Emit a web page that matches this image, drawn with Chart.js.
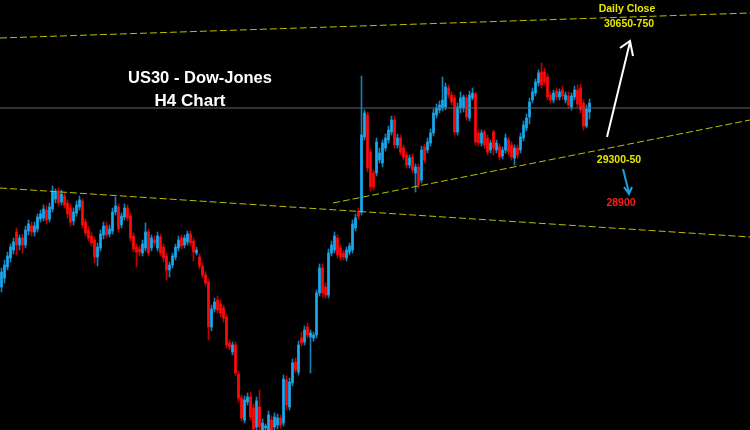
<!DOCTYPE html>
<html>
<head>
<meta charset="utf-8">
<script src="https://cdn.jsdelivr.net/npm/chart.js@4.4.1/dist/chart.umd.min.js"></script>
<style>
  html, body { margin: 0; padding: 0; background: #000; }
  canvas { display: block; }
</style>
</head>
<body>
<canvas id="chart" width="750" height="430"></canvas>
<script>
// US30 H4 candles (price points)
const opens = [28030,28120,28230,28320,28400,28580,28450,28520,28450,28590,28640,28580,28610,28710,28720,28800,28710,28810,28910,28990,
  28880,28940,28870,28820,28690,28770,28830,28890,28680,28600,28540,28500,28330,28420,28550,28640,28560,28590,28780,28830,
  28650,28730,28820,28740,28540,28430,28410,28370,28420,28580,28420,28500,28420,28530,28430,28340,28200,28250,28330,28420,
  28520,28450,28480,28560,28490,28370,28330,28240,28150,28080,27630,27810,27900,27860,27820,27730,27470,27380,27450,27160,
  26920,26700,26880,26930,26820,26630,26830,26600,26620,26600,26700,26630,26650,26720,26670,27100,26830,27070,27280,27180,
  27520,27480,27630,27530,27520,27550,27970,28220,28030,27950,28370,28400,28520,28420,28370,28320,28380,28400,28620,28790,
  28780,29530,29750,29380,29170,29170,29300,29270,29420,29500,29580,29700,29450,29520,29420,29350,29250,29330,29170,29230,
  29100,29430,29400,29470,29570,29750,29800,29820,29830,30020,29950,29920,29580,29820,29820,29920,29720,29920,29960,29570,
  29470,29580,29520,29400,29580,29400,29430,29340,29400,29500,29450,29320,29420,29400,29520,29620,29730,29900,29970,30070,
  30180,30180,30130,29950,29900,29990,29930,30000,29900,29940,29830,29930,30000,30020,29870,29640,29780];
const highs = [28220,28300,28380,28460,28520,28620,28550,28560,28640,28700,28680,28680,28760,28800,28850,28840,28870,29040,29010,29020,
  29000,28970,28900,28860,28820,28890,28940,28910,28710,28640,28580,28530,28470,28600,28680,28680,28650,28820,28930,28860,
  28770,28860,28850,28770,28570,28460,28440,28500,28670,28610,28550,28540,28580,28560,28460,28370,28280,28370,28460,28540,
  28550,28550,28590,28590,28520,28430,28360,28270,28180,28110,27850,27920,27940,27900,27850,27760,27500,27480,27480,27190,
  26950,26940,26970,26980,26860,26930,27000,26710,26660,26790,26740,26770,26760,26750,27150,27140,27120,27310,27320,27490,
  27580,27640,27670,27600,27580,28000,28260,28260,28070,28410,28490,28580,28550,28450,28400,28430,28470,28700,28760,28820,
  30140,29800,29780,29410,29200,29520,29420,29500,29560,29640,29740,29740,29560,29550,29450,29380,29350,29360,29260,29260,
  29440,29460,29520,29610,29810,29860,29890,30130,30070,30050,29980,29950,29870,29980,29950,29950,29990,30020,29980,29600,
  29600,29600,29550,29500,29600,29500,29460,29430,29560,29530,29480,29450,29450,29570,29690,29760,29920,30020,30110,30200,
  30270,30220,30160,29980,30000,30020,30010,30040,29980,29980,29970,30040,30050,30060,29900,29850,29910];
const lows = [27980,28070,28200,28280,28360,28350,28400,28370,28420,28550,28540,28540,28580,28680,28690,28660,28680,28780,28870,28840,
  28850,28820,28720,28640,28650,28740,28800,28620,28540,28490,28440,28270,28240,28390,28510,28520,28530,28560,28750,28580,
  28620,28700,28690,28490,28380,28230,28340,28340,28390,28340,28390,28440,28390,28340,28280,28100,28130,28220,28300,28390,
  28410,28420,28450,28440,28290,28350,28210,28120,28040,27500,27590,27780,27770,27730,27680,27420,27400,27350,27140,26880,
  26690,26670,26850,26700,26580,26600,26600,26560,26560,26560,26560,26600,26610,26620,26640,26800,26800,27040,27170,27150,
  27440,27450,27520,27170,27490,27520,27940,27930,27920,27920,28340,28370,28320,28300,28300,28290,28350,28370,28590,28710,
  28750,29500,29180,28990,29000,29140,29270,29230,29390,29470,29550,29420,29420,29350,29300,29220,29220,29170,28980,29020,
  29070,29270,29370,29440,29540,29720,29770,29790,29800,29920,29850,29550,29550,29770,29780,29700,29690,29900,29450,29440,
  29440,29420,29350,29370,29350,29370,29300,29310,29370,29350,29300,29250,29320,29370,29490,29590,29660,29870,29940,30040,
  30020,30050,29900,29870,29870,29900,29900,29910,29870,29820,29800,29900,29830,29770,29600,29620,29710];
const closes = [28180,28250,28340,28430,28480,28450,28520,28450,28600,28660,28580,28640,28730,28760,28810,28700,28830,28980,28980,28870,
  28960,28850,28760,28680,28780,28850,28900,28650,28570,28520,28470,28330,28430,28560,28640,28550,28610,28780,28840,28610,
  28740,28820,28720,28520,28410,28380,28380,28460,28580,28370,28520,28470,28540,28370,28320,28200,28250,28340,28430,28500,
  28440,28520,28560,28470,28380,28400,28240,28150,28070,27630,27810,27880,27800,27770,27720,27450,27430,27450,27170,26920,
  26720,26900,26930,26730,26610,26890,26630,26670,26640,26750,26600,26730,26720,26650,27110,26850,27080,27270,27200,27450,
  27470,27600,27550,27570,27550,27970,28220,27970,27950,28370,28450,28540,28350,28330,28330,28400,28440,28660,28720,28740,
  29550,29770,29220,29030,29030,29480,29370,29470,29520,29600,29700,29450,29520,29380,29330,29250,29320,29200,29230,29050,
  29400,29300,29480,29570,29770,29820,29850,29900,30030,29950,29880,29580,29830,29920,29930,29730,29950,29970,29480,29470,
  29570,29450,29380,29470,29420,29470,29330,29400,29520,29380,29330,29420,29350,29530,29650,29720,29880,29980,30080,30170,
  30050,30080,29930,29900,29970,29930,29980,29940,29950,29850,29940,30000,29860,29800,29640,29810,29870];

// trend lines: [index, price] end points
const upperTrend = [[-0.5, 30520], [249.5, 30770]];
const supportTrend = [[110.5, 28870], [249.5, 29700]];
const lowerTrend = [[-0.5, 29020], [249.5, 28530]];
const levelLine = [[-0.5, 29820], [249.5, 29820]];

const UP = '#19a9ec', DOWN = '#ff0a0a';
const UP_WICK = '#1580b5', DOWN_WICK = '#c00000';

const up = closes.map((c, i) => c >= opens[i]);
const wickData = opens.map((o, i) => ({ x: i, y: [lows[i], highs[i]] }));
const bodyData = opens.map((o, i) => ({ x: i, y: [o, closes[i]] }));

function trendSet(pts, color, dash) {
  return {
    type: 'line',
    data: pts.map(p => ({ x: p[0], y: p[1] })),
    borderColor: color, borderWidth: 1, borderDash: dash,
    pointRadius: 0, fill: false, tension: 0, order: 0
  };
}

// text + arrows drawn on top
const notes = {
  id: 'notes',
  afterDraw(chart) {
    const ctx = chart.ctx;
    ctx.save();
    ctx.textAlign = 'center';
    ctx.textBaseline = 'alphabetic';
    ctx.fillStyle = '#fff';
    ctx.font = 'bold 16.5px "Liberation Sans", Arial, sans-serif';
    ctx.fillText('US30 - Dow-Jones', 200, 83);
    ctx.font = 'bold 17px "Liberation Sans", Arial, sans-serif';
    ctx.fillText('H4 Chart', 190, 106);

    ctx.font = 'bold 10.5px "Liberation Sans", Arial, sans-serif';
    ctx.fillStyle = '#e6e600';
    ctx.fillText('Daily Close', 627, 12);
    ctx.fillText('30650-750', 629, 27);
    ctx.fillText('29300-50', 619, 163);
    ctx.fillStyle = '#ff1a1a';
    ctx.fillText('28900', 621, 206);

    // white arrow up
    ctx.strokeStyle = '#fff';
    ctx.lineWidth = 2;
    ctx.beginPath();
    ctx.moveTo(607, 137); ctx.lineTo(630, 42);
    ctx.moveTo(620, 48); ctx.lineTo(630, 41); ctx.lineTo(633, 56);
    ctx.stroke();

    // blue arrow down
    ctx.strokeStyle = '#1a9fe0';
    ctx.beginPath();
    ctx.moveTo(623, 169); ctx.lineTo(629, 193);
    ctx.moveTo(624, 187); ctx.lineTo(629, 194); ctx.lineTo(632, 187);
    ctx.stroke();
    ctx.restore();
  }
};

new Chart(document.getElementById('chart'), {
  data: {
    datasets: [
      trendSet(levelLine, '#5e6872', []),
      trendSet(upperTrend, '#bebe00', [7, 3]),
      trendSet(supportTrend, '#bebe00', [7, 3]),
      trendSet(lowerTrend, '#bebe00', [7, 3]),
      {
        type: 'bar', data: bodyData, grouped: false, barThickness: 2,
        backgroundColor: up.map(u => u ? UP : DOWN), borderWidth: 0, order: 1
      },
      {
        type: 'bar', data: wickData, grouped: false, barThickness: 1,
        backgroundColor: up.map(u => u ? UP_WICK : DOWN_WICK), borderWidth: 0, order: 2
      }
    ]
  },
  options: {
    responsive: false,
    animation: false,
    devicePixelRatio: 1,
    events: [],
    layout: { padding: 0 },
    plugins: { legend: { display: false }, tooltip: { enabled: false } },
    scales: {
      x: { type: 'linear', min: -0.5, max: 249.5, display: false, offset: false },
      y: { type: 'linear', min: 26600, max: 30900, display: false }
    }
  },
  plugins: [notes]
});
</script>
</body>
</html>
